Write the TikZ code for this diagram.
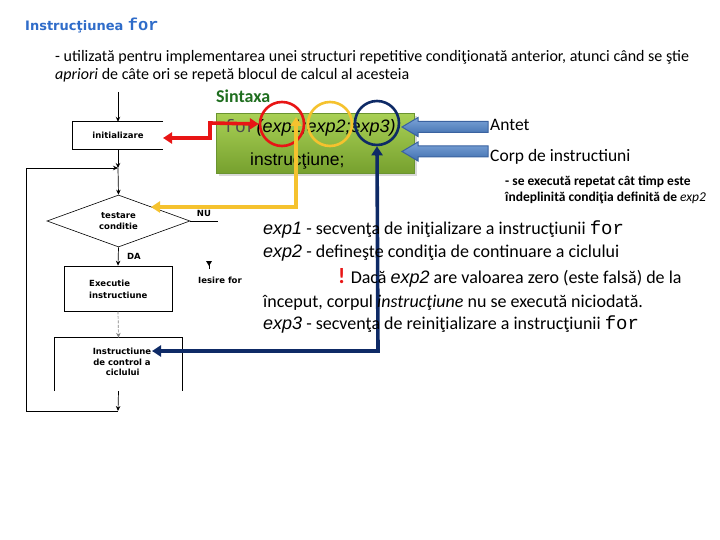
\documentclass[tikz,border=0pt]{standalone}
\usepackage{fontspec}
\setmainfont{Carlito}
\newfontfamily\arialf{Liberation Sans}
\newfontfamily\monof{Liberation Mono}
\newfontfamily\flowf{DejaVu Sans}
\usetikzlibrary{arrows.meta,shapes.geometric}
\definecolor{titleblue}{HTML}{2F6CC9}
\definecolor{syngreen}{HTML}{1F6E1F}
\definecolor{gtop}{HTML}{A9D055}
\definecolor{gbot}{HTML}{76A02E}
\definecolor{gborder}{HTML}{6A9430}
\definecolor{redc}{HTML}{E81515}
\definecolor{yelc}{HTML}{F5C22E}
\definecolor{navyc}{HTML}{0E2A66}
\definecolor{bluetop}{HTML}{7DA4D8}
\definecolor{bluebot}{HTML}{3E6EAE}
\definecolor{blueborder}{HTML}{3A62A0}
\newcommand{\fsz}[1]{\fontsize{#1}{#1}\selectfont}
\begin{document}
\begin{tikzpicture}[x=1pt,y=-1pt,
  flow/.style={font=\flowf\bfseries\fsz{8.5}, align=center, inner sep=0pt},
  farr/.style={-{Stealth[length=5pt,width=4.5pt]}, line width=0.7pt},
  fline/.style={line width=0.7pt},
  txt/.style={anchor=base west, inner sep=0pt},
  ring/.style={circle, line width=2.6pt, minimum size=44pt, inner sep=0pt},
  fat/.style={line width=3.6pt, {Triangle[length=9pt,width=11pt]}-{Triangle[length=9pt,width=11pt]}},
  barrow/.style={draw=blueborder, line width=1pt, top color=bluetop, bottom color=bluebot}
]
\useasboundingbox (0,0) rectangle (720,540);

% ---- title and intro
\node[txt, text=titleblue, font=\flowf\bfseries\fsz{13}] (title) at (25,31) {Instrucţiunea {\monof\fsz{17}for}};
\node[txt, font=\fsz{16}] (intro1) at (55,62) {- utilizată pentru implementarea unei structuri repetitive condiţionată anterior, atunci când se ştie};
\node[txt, font=\fsz{16}] (intro2) at (55,80) {\textit{apriori} de câte ori se repetă blocul de calcul al acesteia};

% ---- flowchart
\node[flow, minimum width=90pt, minimum height=27pt] (init) at (118,135.5) {initializare};
\draw[fline] (init.north east) -- (init.north west) -- (init.south west) -- (init.south east);
\node[flow, draw, diamond, aspect=2.75, minimum width=143pt, minimum height=52pt, line width=0.6pt] (test) at (118.5,221) {testare\\[2pt]conditie};
\node[flow, draw, minimum width=108pt, minimum height=45pt, align=left, line width=0.7pt] (exec) at (118,288.5) {};
\node[flow, align=left, anchor=west] (exect) at (89,289.5) {Executie\\[3pt]instructiune};
\node[flow, minimum width=127pt, minimum height=53pt] (ctrl) at (118.5,364.5) {};
\draw[fline] (ctrl.south west) -- (ctrl.north west) -- (ctrl.north east) -- (ctrl.south east);
\node[flow] (ctrlt) at (122,362) {Instructiune\\[2pt]de control a\\[2pt]\,ciclului};

\coordinate (start) at (118,92);
\coordinate (join) at (118,168);
\coordinate (bot) at (118,411);
\coordinate (lb) at (26,411);
\coordinate (lt) at (26,168);
\coordinate (nuend) at (218,221);

\draw[farr] (start) -- (init.north);
\draw[farr] (init.south) -- (join);
\draw[farr] (join) -- (test.north);
\draw[farr] (test.south) -- (exec.north);
\draw[farr, draw=gray, dash pattern=on 3pt off 1.5pt] (exec.south) -- (ctrl.north);
\draw[farr] (ctrl.south) -- (bot);
\draw[farr] (bot) -- (lb) -- (lt) -- (join);
\draw[fline] (test.east) -- (nuend);

\node[flow] (nu) at (204,213) {NU};
\node[flow] (da) at (134,256) {DA};
\node[flow] (iesire) at (220,280) {Iesire for};
\coordinate (ies1) at (209,262);
\coordinate (ies2) at (209,269);
\draw[line width=0.5pt] (ies1) -- (ies2);
\fill (206,261) -- (212,261) -- (209,266) -- cycle;

% ---- syntax box
\node[txt, text=syngreen, font=\bfseries\fsz{18}] (sintaxa) at (216,103) {Sintaxa};
\fill[black!15] (219,116) rectangle (417,176);
\node[draw=gborder, line width=0.8pt, top color=gtop, bottom color=gbot, minimum width=198pt, minimum height=60pt, inner sep=0pt, anchor=north west] (syn) at (216,113) {};
\node[txt, font=\fsz{18}] (forline) at (224,133) {{\monof\color{black!70}for}{\arialf\itshape (exp1;exp2;exp3)}};
\node[txt, font=\arialf\fsz{17.5}] (instr) at (250,166) {instrucţiune;};

% ---- blue block arrows
\draw[barrow] (402,127) -- (418,117.5) -- (418,121.5) -- (488,121.5) -- (488,132.5) -- (418,132.5) -- (418,136.5) -- cycle;
\draw[barrow] (402,151.5) -- (418,142) -- (418,146) -- (488,146) -- (488,157) -- (418,157) -- (418,161) -- cycle;
\node[txt, font=\fsz{17.5}] (antet) at (490,131) {Antet};
\node[txt, font=\fsz{17.5}] (corp) at (490,162) {Corp de instructiuni};
\node[txt, font=\bfseries\fsz{13.5}] (se1) at (505,186) {- se execută repetat cât timp este};
\node[txt, font=\bfseries\fsz{13.5}] (se2) at (505,202) {îndeplinită condiţia definită de \textit{\mdseries exp2}};

% ---- circles
\node[ring, draw=redc] (c1) at (282,124) {};
\node[ring, draw=yelc] (c2) at (330,124) {};
\node[ring, draw=navyc] (c3) at (377,123) {};

% ---- coloured connectors
\coordinate (redL) at (163,138);
\draw[fat, draw=redc] (redL) -- (210,138) -- (210,123) -- (c1.west);
\coordinate (yelL) at (151,207);
\coordinate (yelT) at (296,117);
\draw[fat, draw=yelc] (yelL) -- (296,207) -- (yelT);
\coordinate (navL) at (152,351);
\draw[fat, draw=navyc] (navL) -- (378,351) -- (c3.south);

% ---- explanations
\node[txt, font=\fsz{18}] (e1) at (263,235) {{\arialf\itshape exp1} - secvenţa de iniţializare a instrucţiunii {\monof\fsz{19}for}};
\node[txt, font=\fsz{18}] (e2) at (263,257) {{\arialf\itshape exp2} - defineşte condiţia de continuare a ciclului};
\node[txt, font=\fsz{18}] (e3) at (338,283) {{\color{redc}\bfseries\fsz{22}!} Dacă {\arialf\itshape exp2} are valoarea zero (este falsă) de la};
\node[txt, font=\fsz{18}] (e4) at (263,307) {început, corpul \textit{instrucţiune} nu se execută niciodată.};
\node[txt, font=\fsz{18}] (e5) at (263,329) {{\arialf\itshape exp3} - secvenţa de reiniţializare a instrucţiunii {\monof\fsz{19}for}};
\end{tikzpicture}
\end{document}
